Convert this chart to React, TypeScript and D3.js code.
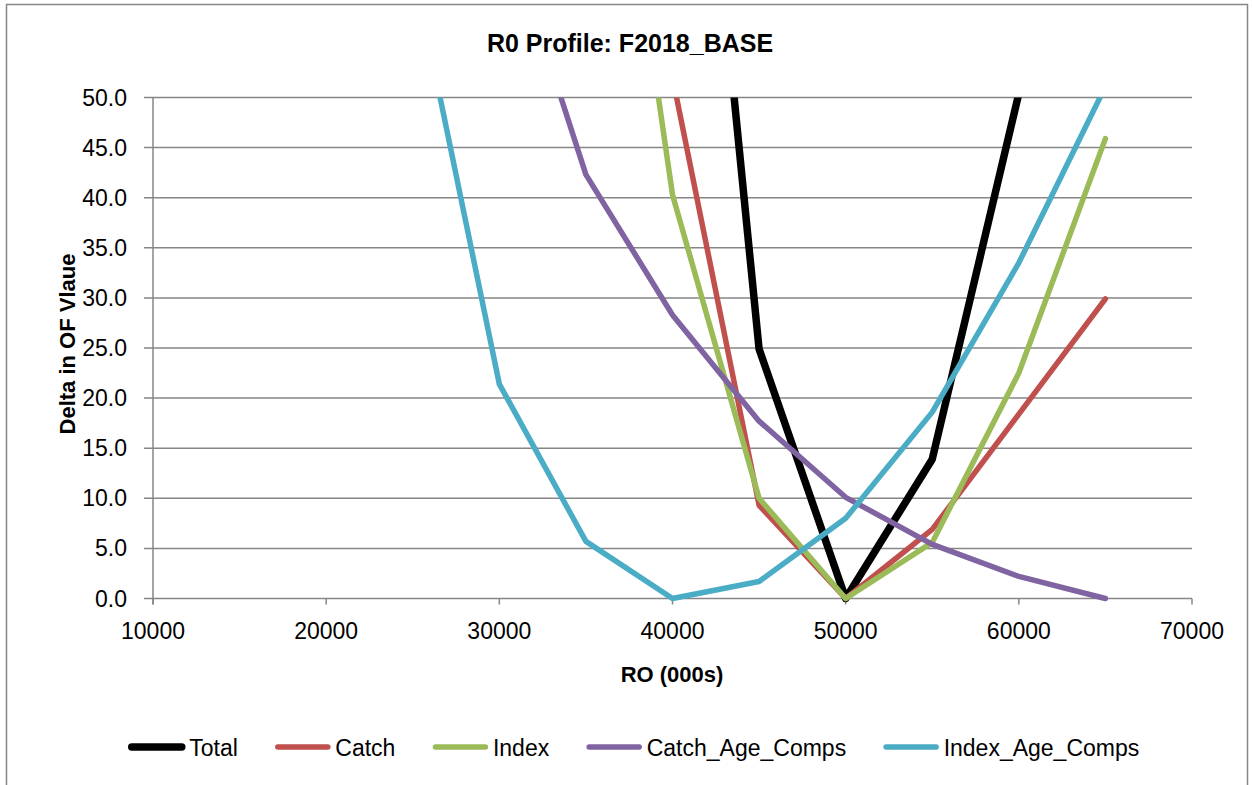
import React, { useEffect, useRef } from "react";
import * as d3 from "d3";

// R0 values (000s) at which the profile was evaluated
const r0Values = [25000, 30000, 35000, 40000, 45000, 50000, 55000, 60000, 65000];

// Delta in objective function per component (values above 50 run off the chart)
const total = [380, 260, 175, 112, 24.9, 0, 13.9, 50.4, 125];
const catchVals = [200, 140, 90, 52, 9.3, 0, 6.9, 18.4, 29.9];
const indexVals = [250, 170, 100, 40.3, 10.0, 0, 5.6, 22.5, 45.9];
const catchAgeComps = [100, 69, 42.3, 28.3, 17.7, 10.1, 5.4, 2.2, 0];
const indexAgeComps = [63.2, 21.4, 5.7, 0, 1.7, 8.0, 18.6, 33.5, 51.1];

const seriesNames = ["Total", "Catch", "Index", "Catch_Age_Comps", "Index_Age_Comps"];
const seriesColors = ["#000000", "#C0504D", "#9BBB59", "#8064A2", "#4BACC6"];
const seriesWidths = [7.5, 5.5, 5.5, 5.5, 5.5];

const xTicks = [10000, 20000, 30000, 40000, 50000, 60000, 70000];
const yTicks = [0, 5, 10, 15, 20, 25, 30, 35, 40, 45, 50];

const App = () => {
  const ref = useRef(null);

  useEffect(() => {
    document.body.style.margin = "0";
    const width = 1253;
    const height = 785;
    const left = 153;
    const right = 1192;
    const top = 97.5;
    const bottom = 598.5;
    const font = "'Liberation Sans', Arial, sans-serif";
    const gridColor = "#868686";

    d3.select(ref.current).selectAll("*").remove();
    const svg = d3
      .select(ref.current)
      .append("svg")
      .attr("width", width)
      .attr("height", height)
      .style("display", "block")
      .style("font-family", font);

    svg
      .append("rect")
      .attr("width", width)
      .attr("height", height)
      .attr("fill", "#fff");

    // chart border
    svg
      .append("rect")
      .attr("x", 6.5)
      .attr("y", 4.5)
      .attr("width", 1241)
      .attr("height", 800)
      .attr("fill", "none")
      .attr("stroke", gridColor)
      .attr("stroke-width", 1.5);

    const x = d3.scaleLinear().domain([10000, 70000]).range([left, right]);
    const y = d3.scaleLinear().domain([0, 50]).range([bottom, top]);

    // gridlines
    svg
      .append("g")
      .selectAll("line")
      .data(yTicks)
      .enter()
      .append("line")
      .attr("x1", left - 9)
      .attr("x2", right)
      .attr("y1", (d) => y(d))
      .attr("y2", (d) => y(d))
      .attr("stroke", gridColor)
      .attr("stroke-width", 1.5);

    // y axis line
    svg
      .append("line")
      .attr("x1", left)
      .attr("x2", left)
      .attr("y1", top)
      .attr("y2", bottom + 6)
      .attr("stroke", gridColor)
      .attr("stroke-width", 1.5);

    // x ticks
    svg
      .append("g")
      .selectAll("line")
      .data(xTicks)
      .enter()
      .append("line")
      .attr("x1", (d) => x(d))
      .attr("x2", (d) => x(d))
      .attr("y1", bottom)
      .attr("y2", bottom + 6)
      .attr("stroke", gridColor)
      .attr("stroke-width", 1.5);

    svg
      .append("g")
      .selectAll("text")
      .data(yTicks)
      .enter()
      .append("text")
      .attr("x", 127)
      .attr("y", (d) => y(d) + 8)
      .attr("text-anchor", "end")
      .style("font-size", "23px")
      .text((d) => d3.format(".1f")(d));

    svg
      .append("g")
      .selectAll("text")
      .data(xTicks)
      .enter()
      .append("text")
      .attr("x", (d) => x(d))
      .attr("y", 639)
      .attr("text-anchor", "middle")
      .style("font-size", "23px")
      .text((d) => d3.format("d")(d));

    // titles
    svg
      .append("text")
      .attr("x", 630)
      .attr("y", 52)
      .attr("text-anchor", "middle")
      .style("font-size", "25px")
      .style("font-weight", "bold")
      .text("R0 Profile: F2018_BASE");

    svg
      .append("text")
      .attr("x", 672)
      .attr("y", 682)
      .attr("text-anchor", "middle")
      .style("font-size", "22px")
      .style("font-weight", "bold")
      .text("RO (000s)");

    svg
      .append("text")
      .attr("transform", `translate(75,344) rotate(-90)`)
      .attr("text-anchor", "middle")
      .style("font-size", "22px")
      .style("font-weight", "bold")
      .text("Delta in OF Vlaue");

    // lines, clipped to the plot area
    svg
      .append("clipPath")
      .attr("id", "plotClip")
      .append("rect")
      .attr("x", left - 10)
      .attr("y", top)
      .attr("width", right - left + 20)
      .attr("height", bottom - top + 8);

    const allSeries = [total, catchVals, indexVals, catchAgeComps, indexAgeComps];
    const line = d3
      .line<number>()
      .x((d, i) => x(r0Values[i]))
      .y((d) => y(d));

    const lineGroup = svg.append("g").attr("clip-path", "url(#plotClip)");
    allSeries.forEach((vals, s) => {
      lineGroup
        .append("path")
        .attr("d", line(vals))
        .attr("fill", "none")
        .attr("stroke", seriesColors[s])
        .attr("stroke-width", seriesWidths[s])
        .attr("stroke-linejoin", "round")
        .attr("stroke-linecap", "round");
    });

    // legend
    const legend = svg.append("g");
    const lineLen = 56;
    const textGap = 4.5;
    const itemGap = 37;
    const legendY = 747;
    let cursor = 0;
    seriesNames.forEach((name, s) => {
      const item = legend.append("g");
      item
        .append("line")
        .attr("x1", cursor + 3)
        .attr("x2", cursor + lineLen - 3)
        .attr("y1", legendY)
        .attr("y2", legendY)
        .attr("stroke", seriesColors[s])
        .attr("stroke-width", seriesWidths[s])
        .attr("stroke-linecap", "round");
      const t = item
        .append("text")
        .attr("x", cursor + lineLen + textGap)
        .attr("y", legendY + 9)
        .style("font-size", "23px")
        .text(name);
      const w = (t.node() as SVGTextElement).getComputedTextLength();
      cursor += lineLen + textGap + w + itemGap;
    });
    const legendWidth = cursor - itemGap;
    legend.attr("transform", `translate(${634 - legendWidth / 2},0)`);
  }, []);

  return <div ref={ref}></div>;
};

export default App;
